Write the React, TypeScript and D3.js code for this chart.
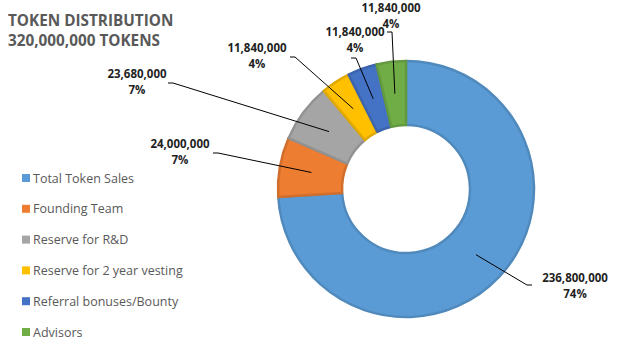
import React from "react";
import * as d3 from "d3";

const categories = [
  "Total Token Sales",
  "Founding Team",
  "Reserve for R&D",
  "Reserve for 2 year vesting",
  "Referral bonuses/Bounty",
  "Advisors",
];
const values = [236800000, 24000000, 23680000, 11840000, 11840000, 11840000];
const percentLabels = ["74%", "7%", "7%", "4%", "4%", "4%"];
const colors = ["#5B9BD5", "#ED7D31", "#A5A5A5", "#FFC000", "#4472C4", "#70AD47"];
const titleLines = ["TOKEN DISTRIBUTION", "320,000,000 TOKENS"];

// label anchor offsets relative to chart centre (layout config)
const labelPos: [number, number, "start" | "end"][] = [
  [121, 96, "start"],
  [-188, -36, "end"],
  [-233, -106, "end"],
  [-111, -132, "end"],
  [-50, -131, "end"],
  [-14, -157, "end"],
];
const labelTextCenter: [number, number][] = [
  [169, 93],
  [-226, -41],
  [-269, -111],
  [-149, -137],
  [-51, -153],
  [-15, -177],
];

export default function App() {
  const W = 640,
    H = 343;
  const cx = 406,
    cy = 189,
    rOuter = 128,
    rInner = 64;
  const pie = d3.pie<number>().sort(null).value((d) => d)(values);
  const arc = d3.arc<d3.PieArcDatum<number>>().innerRadius(rInner).outerRadius(rOuter);
  const mid = d3.arc<d3.PieArcDatum<number>>().innerRadius(96).outerRadius(96);
  const fmt = d3.format(",");
  const legendY = d3.scaleLinear().domain([0, 5]).range([178, 332]);

  return (
    <svg
      width={W}
      height={H}
      style={{ position: "absolute", left: 0, top: 0, background: "#fff" }}
      fontFamily="'Open Sans', sans-serif"
    >
      {titleLines.map((t, i) => (
        <text
          key={t}
          x={8}
          y={26 + i * 20}
          fontSize={15.3}
          fontWeight="bold"
          fill="#595959"
        >
          {t}
        </text>
      ))}
      <g transform={`translate(${cx},${cy})`}>
        {pie.map((p, i) => (
          <path
            key={i}
            d={arc(p) || ""}
            fill={colors[i]}
            stroke={d3.color(colors[i])!.darker(0.35).toString()}
            strokeWidth={2.5}
            strokeLinejoin="round"
          />
        ))}
        {pie.map((p, i) => {
          const [x0, y0] = mid.centroid(p);
          const [lx, ly, side] = labelPos[i];
          const hx = side === "start" ? lx + 5 : lx - 5;
          const [tx, ty] = labelTextCenter[i];
          return (
            <g key={"l" + i}>
              <polyline
                points={`${x0},${y0} ${lx},${ly} ${hx},${ly}`}
                fill="none"
                stroke="#000"
                strokeWidth={1}
              />
              <text
                x={tx}
                y={ty}
                textAnchor="middle"
                fontSize={11.5}
                fontWeight="bold"
                fill="#1f1f1f"
              >
                <tspan x={tx}>{fmt(values[i])}</tspan>
                <tspan x={tx} dy={16}>
                  {percentLabels[i]}
                </tspan>
              </text>
            </g>
          );
        })}
      </g>
      {categories.map((c, i) => (
        <g key={c} transform={`translate(22,${legendY(i)})`}>
          <rect x={0} y={-4} width={8} height={8} fill={colors[i]} />
          <text x={11} y={4.5} fontSize={12.5} fill="#595959">
            {c}
          </text>
        </g>
      ))}
    </svg>
  );
}
